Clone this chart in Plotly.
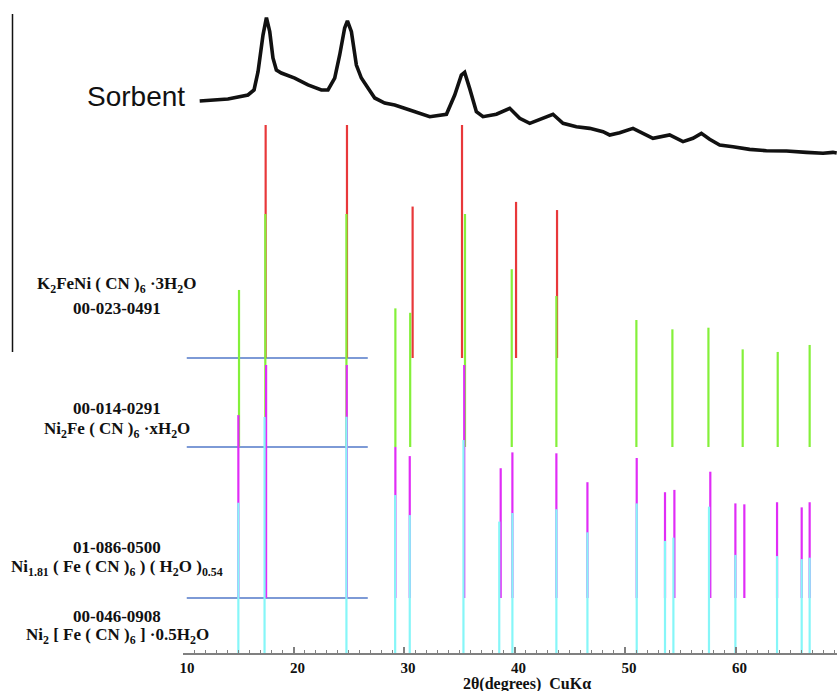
import plotly.graph_objects as go

# ---------------- data ----------------
# Sorbent XRD pattern (2theta, relative intensity 0-100)
sorbent_2theta = [11.51, 14.07, 15.88, 16.43, 16.79, 17.24, 17.55, 17.85, 18.14, 18.45,
                  18.90, 20.11, 21.31, 22.52, 23.12, 23.73, 24.18, 24.63, 24.88, 25.24,
                  25.69, 26.14, 26.74, 27.35, 28.25, 29.16, 30.52, 32.33, 33.84, 34.59,
                  35.19, 35.49, 35.94, 36.55, 37.15, 38.36, 39.57, 40.47, 41.38, 42.58,
                  43.48, 44.39, 45.60, 46.80, 48.01, 48.61, 49.52, 50.72, 51.63, 52.53,
                  54.04, 55.25, 56.15, 56.91, 57.66, 58.57, 59.77, 61.28, 62.80, 64.61,
                  66.42, 67.92, 68.82, 69.16]
sorbent_int = [38.6, 40.0, 43.0, 46.7, 60.2, 87.2, 100.0, 89.7, 70.3, 61.4,
               59.2, 55.5, 50.4, 46.7, 46.7, 55.5, 72.5, 92.4, 97.6, 89.7,
               65.1, 55.5, 48.2, 40.8, 37.1, 35.6, 31.9, 27.0, 28.8, 43.0,
               57.7, 59.7, 47.9, 30.7, 27.0, 28.8, 33.2, 25.8, 22.1, 25.8,
               28.8, 22.1, 19.6, 18.4, 15.9, 13.5, 15.2, 18.4, 14.7, 11.1,
               13.5, 8.6, 11.1, 14.7, 10.3, 6.1, 4.9, 2.9, 1.9, 1.7,
               0.7, 0.0, 0.7, 0.2]

# Reference patterns (2theta, relative intensity %)
red_2theta = [17.48, 24.84, 30.78, 35.25, 40.14, 43.85]          # 00-023-0491
red_int = [100, 100, 65, 100, 67, 63.5]

green_2theta = [15.07, 17.45, 24.79, 29.22, 30.56, 35.52, 39.75, 43.79,
                51.03, 54.29, 57.55, 60.65, 63.82, 66.71]        # 00-014-0291
green_int = [67.4, 100, 100, 59.5, 57.6, 100, 76.3, 64.8,
             54.5, 50.5, 51.2, 41.9, 40.8, 43.8]

magenta_2theta = [15.01, 17.52, 24.82, 29.22, 30.52, 35.45, 38.75, 39.81, 43.79, 46.60,
                  51.06, 53.62, 54.47, 57.72, 59.99, 60.80, 63.76, 65.99, 66.71]  # 01-086-0500
magenta_int = [78.5, 100, 100, 64.8, 60.9, 100, 55.7, 62.5, 62.1, 49.7,
               60.1, 45.4, 46.4, 54.2, 40.6, 40.2, 41.1, 38.9, 41.1]

cyan_2theta = [15.01, 17.38, 24.79, 29.20, 30.52, 35.38, 38.62, 39.81, 43.79, 46.60,
               51.06, 53.62, 54.38, 57.60, 59.99, 63.76, 65.99, 66.71]          # 00-046-0908
cyan_int = [64.5, 101.3, 101.4, 67.8, 59.2, 91.4, 56.4, 60.1, 61.7, 51.8,
            64.2, 48.1, 49.5, 62.8, 42.1, 41.6, 40.3, 40.9]

x_ticks = [10, 20, 30, 40, 50, 60]
labels = [
    ("K<sub>2</sub>FeNi ( CN )<sub>6</sub> ·3H<sub>2</sub>O", 285),
    ("00-023-0491", 308),
    ("00-014-0291", 408),
    ("Ni<sub>2</sub>Fe ( CN )<sub>6</sub> ·xH<sub>2</sub>O", 430),
    ("01-086-0500", 547),
    ("Ni<sub>1.81</sub> ( Fe ( CN )<sub>6</sub> ) ( H<sub>2</sub>O )<sub>0.54</sub>", 568),
    ("00-046-0908", 616),
    ("Ni<sub>2</sub> [ Fe ( CN )<sub>6</sub> ] ·0.5H<sub>2</sub>O", 636),
]

# ---------------- layout constants ----------------
W, H = 837, 691
ML, MR, MT, MB = 183, 0, 0, 38
PW, PH = W - ML - MR, H - MT - MB
PX_PER_DEG = 11.05
PX_PER_UNIT = 2.33
XMAX = 10 + PW / PX_PER_DEG
YMAX = PH / PX_PER_UNIT

base_cyan = 0
base_mag = 55 / PX_PER_UNIT
base_green = 206 / PX_PER_UNIT
base_red = 295 / PX_PER_UNIT
sorb_base = (653 - 153.3) / PX_PER_UNIT
sorb_scale = (153.3 - 17.7) / PX_PER_UNIT / 100


def px2paper_x(px):
    return (px - ML) / PW


def px2paper_y(py):
    return (MT + PH - py) / PH


def sticks(xs, hs, base):
    X, Y = [], []
    for x, h in zip(xs, hs):
        X += [x, x, None]
        Y += [base, base + h, None]
    return X, Y


fig = go.Figure()

# sorbent curve
fig.add_trace(go.Scatter(
    x=sorbent_2theta,
    y=[sorb_base + v * sorb_scale for v in sorbent_int],
    mode="lines", line=dict(color="#111111", width=3.6),
    hoverinfo="skip", showlegend=False))

for xs, hs, base, col in [
    (red_2theta, red_int, base_red, "#e8383a"),
    (green_2theta, green_int, base_green, "#84f03a"),
    (magenta_2theta, magenta_int, base_mag, "#e02cf6"),
    (cyan_2theta, cyan_int, base_cyan, "#86f6f8"),
]:
    X, Y = sticks(xs, hs, base)
    fig.add_trace(go.Scatter(x=X, y=Y, mode="lines",
                             line=dict(color=col, width=2.2),
                             hoverinfo="skip", showlegend=False))

# panel base lines
for b in [base_red, base_green, base_mag]:
    fig.add_shape(type="line", xref="x", yref="y", x0=10.34, x1=26.72, y0=b, y1=b,
                  line=dict(color="#7d9ad6", width=1.8), layer="below")

# left vertical line
fig.add_shape(type="line", xref="paper", yref="paper",
              x0=px2paper_x(12.5), x1=px2paper_x(12.5),
              y0=px2paper_y(14), y1=px2paper_y(352),
              line=dict(color="#111111", width=1.5))

annotations = []
for txt, py in labels:
    annotations.append(dict(text=txt, xref="paper", yref="paper",
                            x=px2paper_x(117), y=px2paper_y(py),
                            xanchor="center", yanchor="middle", showarrow=False,
                            font=dict(family="Liberation Serif", size=17, color="#111111",
                                      weight="bold")))
annotations.append(dict(text="Sorbent", xref="paper", yref="paper",
                        x=px2paper_x(136), y=px2paper_y(97),
                        xanchor="center", yanchor="middle", showarrow=False,
                        font=dict(family="Liberation Sans", size=28, color="#111111")))
annotations.append(dict(text="2θ(degrees)  CuKα", xref="paper", yref="paper",
                        x=px2paper_x(526.5), y=px2paper_y(684),
                        xanchor="center", yanchor="middle", showarrow=False,
                        font=dict(family="Liberation Serif", size=16, color="#111111",
                                  weight="bold")))

fig.update_layout(
    width=W, height=H,
    margin=dict(l=ML, r=MR, t=MT, b=MB, pad=0),
    paper_bgcolor="white", plot_bgcolor="white",
    annotations=annotations,
    xaxis=dict(range=[10, XMAX], tickvals=x_ticks, showgrid=False, zeroline=False,
               showline=True, linecolor="#808080", linewidth=1.5,
               ticks="inside", ticklen=6, tickwidth=1.5, tickcolor="#808080",
               minor=dict(dtick=1, tick0=10, ticks="inside", ticklen=3,
                          tickwidth=1.2, tickcolor="#808080"),
               tickfont=dict(family="Liberation Serif", size=15, color="#111111",
                             weight="bold"),
               ticklabelstandoff=0, ticklabelshift=4),
    yaxis=dict(range=[0, YMAX], visible=False, showgrid=False, zeroline=False),
)

fig.write_html("out.html", config={"displayModeBar": False},
               post_script="document.body.style.margin='0px';"
                           "document.body.style.overflow='hidden';")
